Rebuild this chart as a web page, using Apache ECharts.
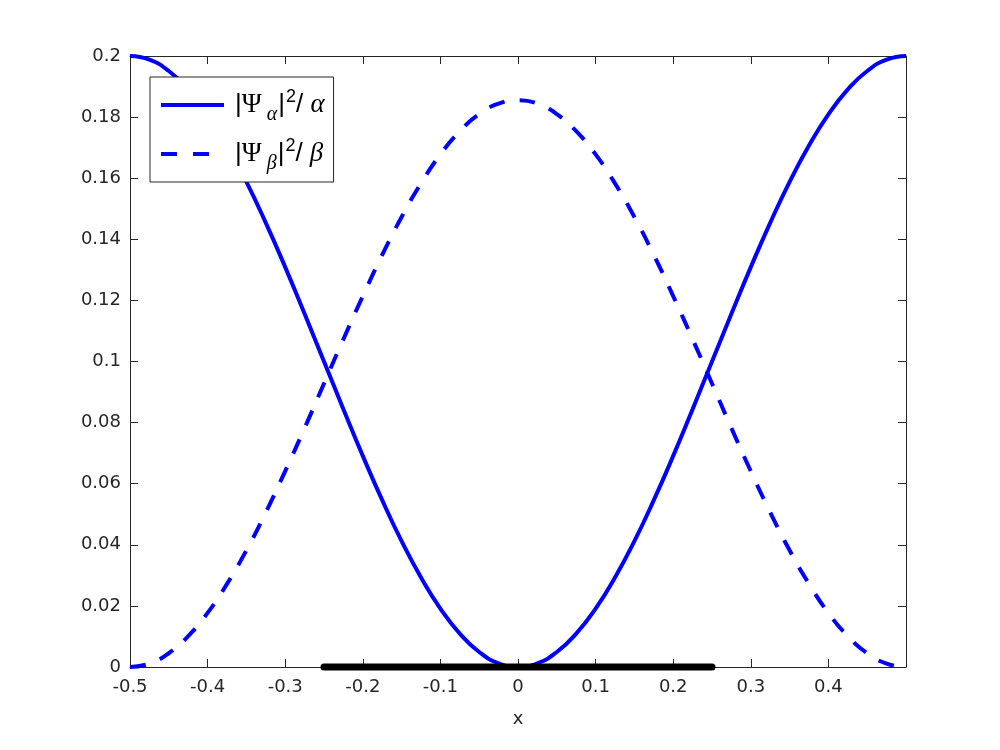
<!DOCTYPE html>
<html>
<head>
<meta charset="utf-8">
<script src="https://cdn.jsdelivr.net/npm/echarts@6/dist/echarts.min.js"></script>
<style>
  html, body { margin: 0; padding: 0; background: #fff; }
  #chart { width: 1000px; height: 750px; }
</style>
</head>
<body>
<div id="chart"></div>
<script>
// x positions the curves were read at
const xValues = [
  -0.5, -0.475, -0.45, -0.425, -0.4, -0.375, -0.35, -0.325, -0.3, -0.275,
  -0.25, -0.225, -0.2, -0.175, -0.15, -0.125, -0.1, -0.075, -0.05, -0.025,
  0, 0.025, 0.05, 0.075, 0.1, 0.125, 0.15, 0.175, 0.2, 0.225,
  0.25, 0.275, 0.3, 0.325, 0.35, 0.375, 0.4, 0.425, 0.45, 0.475, 0.5
]
// |Psi_alpha|^2 / alpha (solid)
const psiAlpha = [
  0.2, 0.1988, 0.1951, 0.1891, 0.1809, 0.1707, 0.1588, 0.1454, 0.1309, 0.1156,
  0.1, 0.0844, 0.0691, 0.0546, 0.0412, 0.0293, 0.0191, 0.0109, 0.0049, 0.0012,
  0, 0.0012, 0.0049, 0.0109, 0.0191, 0.0293, 0.0412, 0.0546, 0.0691, 0.0844,
  0.1, 0.1156, 0.1309, 0.1454, 0.1588, 0.1707, 0.1809, 0.1891, 0.1951, 0.1988, 0.2
]
// |Psi_beta|^2 / beta (dashed)
const psiBeta = [
  0, 0.0011, 0.0045, 0.0101, 0.0177, 0.0272, 0.0382, 0.0506, 0.0641, 0.0782,
  0.0928, 0.1073, 0.1214, 0.1349, 0.1473, 0.1583, 0.1678, 0.1754, 0.181, 0.1844,
  0.1855, 0.1844, 0.181, 0.1754, 0.1678, 0.1583, 0.1473, 0.1349, 0.1214, 0.1073,
  0.0928, 0.0782, 0.0641, 0.0506, 0.0382, 0.0272, 0.0177, 0.0101, 0.0045, 0.0011, 0
]
// black bar on the x axis
const regionX = [-0.25, 0.25]
const regionY = [0, 0]

const legendNames = ['psiA', 'psiB']
const legendText = {
  psiA: '{bar||}{psi|Ψ}{sub|α}{bar||}{sup|2}{bar|/ }{gr|α}',
  psiB: '{bar||}{psi|Ψ}{sub|β}{bar||}{sup|2}{bar|/ }{gr|β}',
}

const axisColor = '#262626'
const blue = '#0000ff'
const tickFont = 'DejaVu Sans'

const zip = (xs, ys) => xs.map((x, i) => [x, ys[i]])

const myChart = echarts.init(document.getElementById('chart'))
myChart.setOption({
  backgroundColor: '#fff',
  animation: false,
  grid: { left: 130, right: 94, top: 56, bottom: 83, containLabel: false },
  legend: {
    data: [
      { name: 'psiA', lineStyle: { color: blue, width: 4, type: 'solid' } },
      { name: 'psiB', lineStyle: { color: blue, width: 4, type: [16, 16], cap: 'butt' } },
    ],
    orient: 'vertical',
    left: 150,
    top: 77,
    padding: [8, 9, 8, 9],
    itemGap: 9,
    itemWidth: 63,
    itemHeight: 4,
    borderColor: axisColor,
    borderWidth: 1,
    backgroundColor: '#fff',
    selectedMode: false,
    itemStyle: { opacity: 0 },
    formatter: function (name) {
      return legendText[name]
    },
    textStyle: {
      padding: [0, 0, 0, 6],
      rich: {
        bar: { fontFamily: 'Liberation Sans', fontSize: 26, lineHeight: 40, color: '#000' },
        psi: { fontFamily: 'Liberation Serif', fontSize: 27, lineHeight: 40, color: '#000' },
        gr: { fontFamily: 'Liberation Serif', fontStyle: 'italic', fontSize: 27, lineHeight: 40, color: '#000' },
        sub: { fontFamily: 'Liberation Serif', fontStyle: 'italic', fontSize: 20, lineHeight: 16,
          verticalAlign: 'bottom', padding: [0, 1, 0, 5], color: '#000' },
        sup: { fontFamily: 'Liberation Sans', fontSize: 18, lineHeight: 18,
          verticalAlign: 'top', padding: [3, 0, 0, 1], color: '#000' },
      },
    },
  },
  xAxis: [{
    type: 'value',
    min: -0.5,
    max: 0.5,
    interval: 0.1,
    name: 'x',
    nameLocation: 'middle',
    nameGap: 43,
    nameTextStyle: { color: axisColor, fontFamily: tickFont, fontSize: 18 },
    splitLine: { show: false },
    axisLine: { onZero: false, lineStyle: { color: axisColor, width: 1 } },
    axisTick: { inside: true, length: 8, lineStyle: { color: axisColor } },
    axisLabel: {
      color: axisColor,
      fontFamily: tickFont,
      fontSize: 18,
      margin: 11,
      formatter: function (v) {
        if (v > 0.45) return ''
        return String(Math.round(v * 10) / 10)
      },
    },
  }, {
    type: 'value',
    position: 'top',
    min: -0.5,
    max: 0.5,
    interval: 0.1,
    splitLine: { show: false },
    axisLine: { onZero: false, lineStyle: { color: axisColor, width: 1 } },
    axisTick: { inside: true, length: 8, lineStyle: { color: axisColor } },
    axisLabel: { show: false },
  }],
  yAxis: [{
    type: 'value',
    min: 0,
    max: 0.2,
    interval: 0.02,
    splitLine: { show: false },
    axisLine: { show: true, onZero: false, lineStyle: { color: axisColor, width: 1 } },
    axisTick: { show: true, inside: true, length: 8, lineStyle: { color: axisColor } },
    axisLabel: {
      color: axisColor,
      fontFamily: tickFont,
      fontSize: 18,
      margin: 9,
      formatter: function (v) {
        return String(parseFloat(v.toFixed(2)))
      },
    },
  }, {
    type: 'value',
    position: 'right',
    min: 0,
    max: 0.2,
    interval: 0.02,
    splitLine: { show: false },
    axisLine: { show: true, onZero: false, lineStyle: { color: axisColor, width: 1 } },
    axisTick: { show: true, inside: true, length: 8, lineStyle: { color: axisColor } },
    axisLabel: { show: false },
  }],
  series: [
    {
      name: 'psiA',
      type: 'line',
      data: zip(xValues, psiAlpha),
      smooth: true,
      showSymbol: false,
      symbol: 'none',
      clip: false,
      color: blue,
      lineStyle: { color: blue, width: 4 },
      z: 3,
    },
    {
      name: 'psiB',
      type: 'line',
      data: zip(xValues, psiBeta),
      smooth: true,
      showSymbol: false,
      symbol: 'none',
      clip: false,
      color: blue,
      lineStyle: { color: blue, width: 4, type: [16, 15], cap: 'butt' },
      z: 3,
    },
    {
      name: 'region',
      type: 'line',
      data: zip(regionX, regionY),
      showSymbol: false,
      symbol: 'none',
      clip: false,
      lineStyle: { color: '#000', width: 7, cap: 'round' },
      z: 4,
    },
  ],
})
</script>
</body>
</html>
